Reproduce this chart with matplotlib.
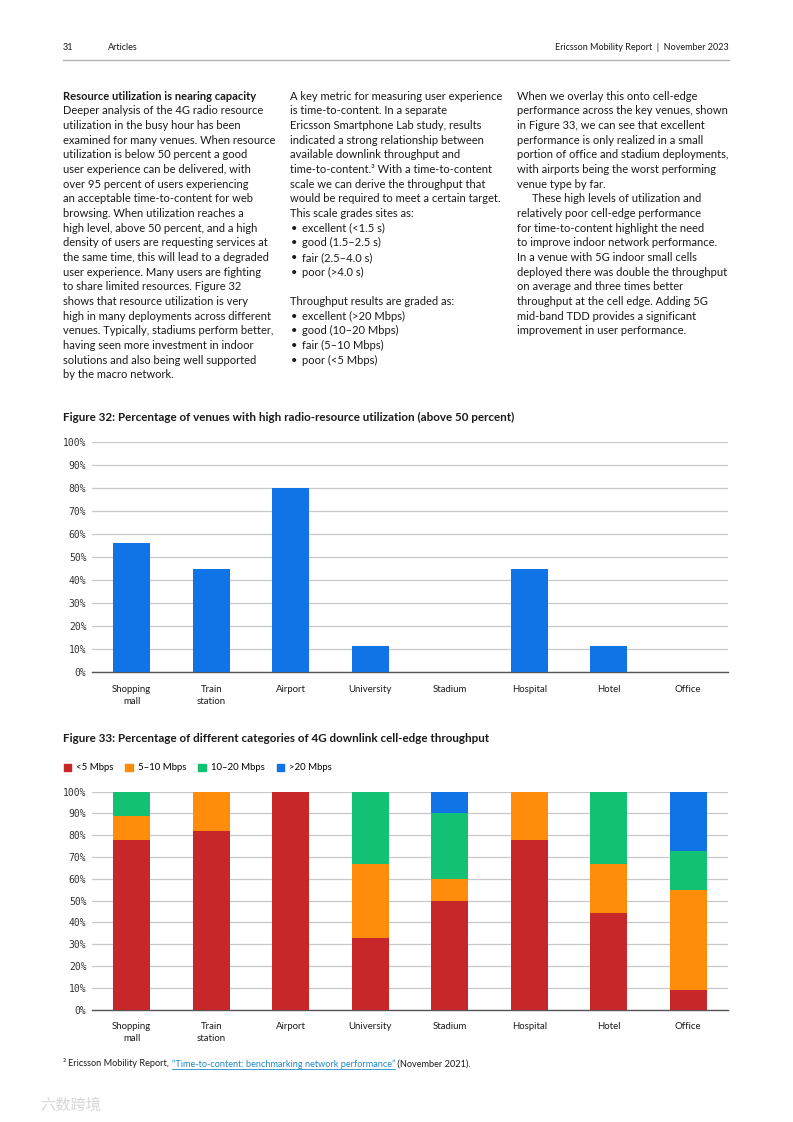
import numpy as np
import matplotlib
matplotlib.use('Agg')
from matplotlib import pyplot as plt
from matplotlib.patches import Patch
from matplotlib.lines import Line2D

# ---- chart data ----
venues = ['Shopping\nmall', 'Train\nstation', 'Airport', 'University',
          'Stadium', 'Hospital', 'Hotel', 'Office']
high_util = [0.56, 0.45, 0.80, 0.115, 0.0, 0.45, 0.115, 0.0]

tp_labels = ['<5 Mbps', '5\u201310 Mbps', '10\u201320 Mbps', '>20 Mbps']
tp_lt5 = [0.78, 0.82, 1.00, 0.33, 0.50, 0.78, 0.445, 0.09]
tp_5_10 = [0.11, 0.18, 0.00, 0.34, 0.10, 0.22, 0.225, 0.46]
tp_10_20 = [0.11, 0.00, 0.00, 0.33, 0.30, 0.00, 0.33, 0.18]
tp_gt20 = [0.00, 0.00, 0.00, 0.00, 0.10, 0.00, 0.00, 0.27]
yticks = np.arange(0, 1.01, 0.1)

# ---- page text ----
col1 = ['Deeper analysis of the 4G radio resource',
        'utilization in the busy hour has been',
        'examined for many venues. When resource',
        'utilization is below 50 percent a good',
        'user experience can be delivered, with',
        'over 95 percent of users experiencing',
        'an acceptable time-to-content for web',
        'browsing. When utilization reaches a',
        'high level, above 50 percent, and a high',
        'density of users are requesting services at',
        'the same time, this will lead to a degraded',
        'user experience. Many users are fighting',
        'to share limited resources. Figure 32',
        'shows that resource utilization is very',
        'high in many deployments across different',
        'venues. Typically, stadiums perform better,',
        'having seen more investment in indoor',
        'solutions and also being well supported',
        'by the macro network.']
col2 = ['A key metric for measuring user experience',
        'is time-to-content. In a separate',
        'Ericsson Smartphone Lab study, results',
        'indicated a strong relationship between',
        'available downlink throughput and',
        'time-to-content.\u00b3 With a time-to-content',
        'scale we can derive the throughput that',
        'would be required to meet a certain target.',
        'This scale grades sites as:',
        '\u2022excellent (<1.5 s)',
        '\u2022good (1.5\u20132.5 s)',
        '\u2022fair (2.5\u20134.0 s)',
        '\u2022poor (>4.0 s)',
        '',
        'Throughput results are graded as:',
        '\u2022excellent (>20 Mbps)',
        '\u2022good (10\u201320 Mbps)',
        '\u2022fair (5\u201310 Mbps)',
        '\u2022poor (<5 Mbps)']
col3 = ['When we overlay this onto cell-edge',
        'performance across the key venues, shown',
        'in Figure 33, we can see that excellent',
        'performance is only realized in a small',
        'portion of office and stadium deployments,',
        'with airports being the worst performing',
        'venue type by far.',
        '>These high levels of utilization and',
        'relatively poor cell-edge performance',
        'for time-to-content highlight the need',
        'to improve indoor network performance.',
        'In a venue with 5G indoor small cells',
        'deployed there was double the throughput',
        'on average and three times better',
        'throughput at the cell edge. Adding 5G',
        'mid-band TDD provides a significant',
        'improvement in user performance.']

W, H = 793, 1122
BLUE = '#1174e6'
RED = '#c8272a'
ORANGE = '#ff8c0a'
GREEN = '#13c174'
TXT = '#1a1a1a'
GRID = '#c8c8c8'
FONT = 'Lato'
MONO = 'DejaVu Sans Mono'
BODY = 8.0

plt.rcParams['font.family'] = [FONT, 'DejaVu Sans']

fig = plt.figure(figsize=(W / 100, H / 100), dpi=100)


def px(x, y):
    return x / W, 1 - y / H


def put(x, y, s, **kw):
    kw.setdefault('color', TXT)
    kw.setdefault('fontsize', BODY)
    kw.setdefault('va', 'center')
    return fig.text(*px(x, y), s, **kw)


# header
put(63, 48, '31', fontsize=6.5)
put(108, 48, 'Articles', fontsize=6.5)
put(729, 48, 'Ericsson Mobility Report  |  November 2023', fontsize=6.5, ha='right')
fig.add_artist(Line2D([63 / W, 729 / W], [1 - 60 / H] * 2, color='#b4b4b4', lw=1.0))

# body columns
LS = 14.68
put(63, 96, 'Resource utilization is nearing capacity', fontweight='bold')
for i, line in enumerate(col1):
    put(63, 96 + (i + 1) * LS, line)
for i, line in enumerate(col2):
    if line.startswith('\u2022'):
        put(291, 96 + i * LS, '\u2022')
        put(302, 96 + i * LS, line[1:])
    elif line:
        put(290, 96 + i * LS, line)
for i, line in enumerate(col3):
    if line.startswith('>'):
        put(532, 96 + i * LS, line[1:])
    else:
        put(517, 96 + i * LS, line)


def style_axes(ax):
    ax.set_xlim(-0.5, len(venues) - 0.5)
    ax.set_ylim(0, 1)
    ax.set_yticks(yticks)
    ax.set_yticklabels(['{:d}%'.format(int(round(v * 100))) for v in yticks],
                       fontfamily=MONO, fontsize=7.0, color='#333333')
    ax.set_xticks(range(len(venues)))
    ax.set_xticklabels(venues, fontsize=6.9, color=TXT, linespacing=1.45)
    ax.tick_params(axis='both', length=0)
    ax.tick_params(axis='y', pad=4)
    ax.tick_params(axis='x', pad=9)
    for s in ['top', 'right', 'left']:
        ax.spines[s].set_visible(False)
    ax.spines['bottom'].set_color('#555555')
    ax.spines['bottom'].set_linewidth(1.0)
    ax.yaxis.grid(True, color=GRID, lw=0.9)
    ax.set_axisbelow(True)


# Figure 32
put(63, 417, 'Figure 32: Percentage of venues with high radio-resource utilization (above 50 percent)',
    fontsize=8.4, fontweight='bold')
ax1 = fig.add_axes([92 / W, 1 - 672 / H, 636 / W, 230 / H])
x = np.arange(len(venues))
ax1.bar(x, high_util, width=0.465, color=BLUE, zorder=3)
style_axes(ax1)

# Figure 33
put(63, 738, 'Figure 33: Percentage of different categories of 4G downlink cell-edge throughput',
    fontsize=8.4, fontweight='bold')
ax2 = fig.add_axes([92 / W, 1 - 1009.5 / H, 636 / W, 217.8 / H])
bottom = np.zeros(len(venues))
for vals, col in zip([tp_lt5, tp_5_10, tp_10_20, tp_gt20], [RED, ORANGE, GREEN, BLUE]):
    ax2.bar(x, vals, width=0.465, bottom=bottom, color=col, zorder=3)
    bottom = bottom + np.array(vals)
style_axes(ax2)

handles = [Patch(color=c) for c in [RED, ORANGE, GREEN, BLUE]]
fig.legend(handles, tp_labels, loc='center left', bbox_to_anchor=px(63.5, 768), ncol=4,
           frameon=False, fontsize=6.9, handlelength=0.8, handleheight=0.8,
           handletextpad=0.5, columnspacing=1.25, borderaxespad=0, borderpad=0)

# footnote
fig.canvas.draw()
r = fig.canvas.get_renderer()
xpos = 63
pieces = [('\u00b3 ', TXT, False), ('Ericsson Mobility Report, ', TXT, False),
          ('\u201cTime-to-content: benchmarking network performance\u201d', '#1e88c8', True),
          (' (November 2021).', TXT, False)]
for s, c, link in pieces:
    t = put(xpos, 1064, s, fontsize=6.6, color=c)
    bb = t.get_window_extent(renderer=r)
    if link:
        yy = 1 - 1069 / H
        fig.add_artist(Line2D([bb.x0 / W, bb.x1 / W], [yy, yy], color=c, lw=0.6))
    xpos = bb.x1

# watermark
fig.text(*px(40, 1105), '六数跨境', fontsize=11, color='#d6d6d6', va='center',
         family=['Noto Sans CJK SC', 'DejaVu Sans'])

fig.savefig('out.png', dpi=100)
